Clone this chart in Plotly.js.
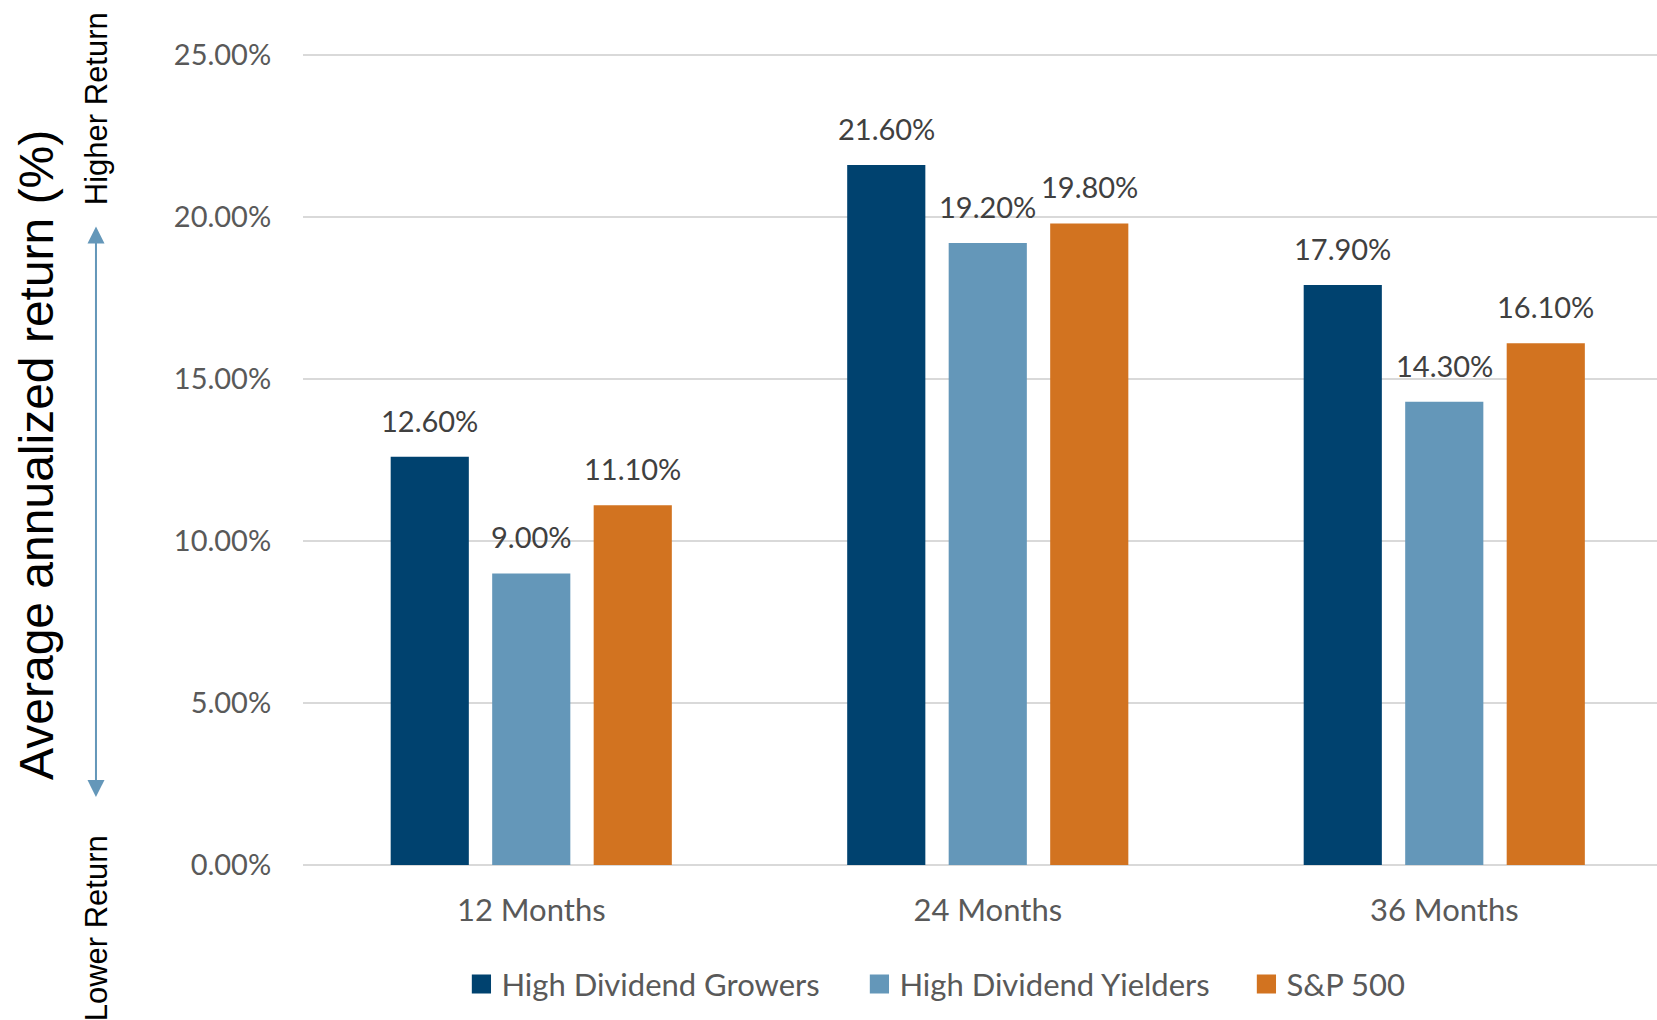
<!DOCTYPE html>
<html>
<head>
<meta charset="utf-8">
<script src="https://cdn.plot.ly/plotly-3.0.1.min.js"></script>
<style>
  html, body { margin: 0; padding: 0; background: #ffffff; }
  #chart { width: 1657px; height: 1020px; }
</style>
</head>
<body>
<div id="chart"></div>
<script>
// ---- data ----
const categories = ['12 Months', '24 Months', '36 Months'];
const seriesNames = ['High Dividend Growers', 'High Dividend Yielders', 'S&P 500'];
const growers  = [12.6, 21.6, 17.9];
const yielders = [9.0, 19.2, 14.3];
const sp500    = [11.1, 19.8, 16.1];
const yTickVals = [0, 5, 10, 15, 20, 25];
const yTickText = ['0.00%', '5.00%', '10.00%', '15.00%', '20.00%', '25.00%'];
const yAxisTitle = 'Average annualized return (%)';
const higherLabel = 'Higher Return';
const lowerLabel = 'Lower Return';

// ---- styles ----
const colors = ['#00426F', '#6497B9', '#D27320'];
const bodyFont = 'Lato, "Open Sans", sans-serif';
const arialFont = '"Liberation Sans", Arial, sans-serif';
const bargap = 0.333;
const bargroupgap = 0.23;
const legendWidths = [353, 342, null];

const series = [growers, yielders, sp500];
const traces = series.map((vals, k) => {
  const t = {
    type: 'bar',
    name: seriesNames[k],
    x: categories,
    y: vals,
    marker: { color: colors[k], line: { width: 0 } },
    hoverinfo: 'skip'
  };
  if (legendWidths[k]) t.legendwidth = legendWidths[k];
  return t;
});

// data labels placed at the bar tops through the axis scales
const slot = (1 - bargap) / series.length;
const labelAnns = [];
series.forEach((vals, k) => {
  const off = (k - (series.length - 1) / 2) * slot;
  vals.forEach((v, i) => {
    labelAnns.push({
      xref: 'x', yref: 'y',
      x: i + off, y: v,
      text: v.toFixed(2) + '%',
      showarrow: false,
      xanchor: 'center', yanchor: 'bottom',
      yshift: 17,
      font: { family: bodyFont, size: 29, color: '#404040' }
    });
  });
});

const sideAnns = [
  {
    xref: 'paper', yref: 'paper', x: -0.1965, y: 0.505,
    text: yAxisTitle, textangle: -90, showarrow: false,
    xanchor: 'center', yanchor: 'middle',
    font: { family: arialFont, size: 48, color: '#000000' }
  },
  {
    xref: 'paper', yref: 'paper', x: -0.1529, y: 0.932,
    text: higherLabel, textangle: -90, showarrow: false,
    xanchor: 'center', yanchor: 'middle',
    font: { family: arialFont, size: 31, color: '#000000' }
  },
  {
    xref: 'paper', yref: 'paper', x: -0.1529, y: -0.078,
    text: lowerLabel, textangle: -90, showarrow: false,
    xanchor: 'center', yanchor: 'middle',
    font: { family: arialFont, size: 31, color: '#000000' }
  },
  {
    xref: 'paper', yref: 'paper', x: -0.1529, y: 0.7864,
    axref: 'pixel', ayref: 'pixel', ax: 0, ay: 572,
    text: '', showarrow: true,
    arrowside: 'end+start', arrowhead: 2, startarrowhead: 2,
    arrowsize: 1.7, startarrowsize: 1.7, arrowwidth: 2,
    arrowcolor: '#6497B9', standoff: 0, startstandoff: 0
  }
];

const layout = {
  width: 1657, height: 1020,
  margin: { l: 303, r: 0, t: 53, b: 155 },
  paper_bgcolor: '#ffffff', plot_bgcolor: '#ffffff',
  barmode: 'group', bargap: bargap, bargroupgap: bargroupgap,
  showlegend: true,
  legend: {
    orientation: 'h', x: 0.117, xanchor: 'left', y: -0.147, yanchor: 'middle',
    font: { family: bodyFont, size: 31, color: '#595959' },
    traceorder: 'normal'
  },
  xaxis: {
    type: 'category', range: [-0.5, 2.466],
    showgrid: false, zeroline: false, showline: false,
    ticks: 'outside', ticklen: 18, tickcolor: 'rgba(0,0,0,0)',
    tickfont: { family: bodyFont, size: 31, color: '#595959' },
    fixedrange: true
  },
  yaxis: {
    range: [0, 25.06], tickmode: 'array', tickvals: yTickVals, ticktext: yTickText,
    showgrid: true, gridcolor: '#D9D9D9', gridwidth: 2.5,
    zeroline: true, zerolinecolor: '#D9D9D9', zerolinewidth: 2.5,
    showline: false,
    ticks: 'outside', ticklen: 25, tickcolor: 'rgba(0,0,0,0)',
    tickfont: { family: bodyFont, size: 29, color: '#595959' },
    fixedrange: true
  },
  annotations: labelAnns.concat(sideAnns)
};

Plotly.newPlot('chart', traces, layout, { displayModeBar: false, staticPlot: true }).then(() => {
  document.querySelectorAll('.legend .legendpoints path').forEach(p => {
    const t = p.getAttribute('transform') || '';
    p.setAttribute('transform', t + ' scale(1.6)');
  });
});
</script>
</body>
</html>
